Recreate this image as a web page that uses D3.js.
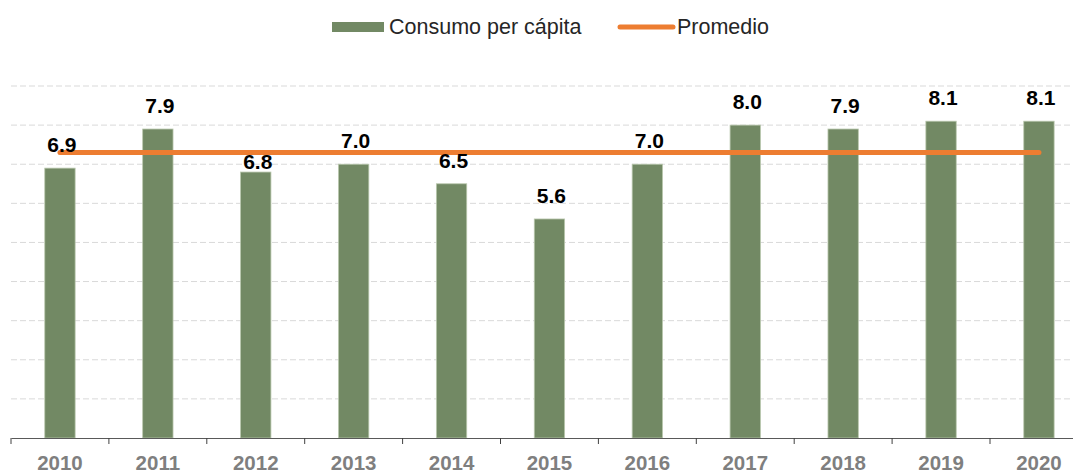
<!DOCTYPE html>
<html>
<head>
<meta charset="utf-8">
<script src="https://cdn.jsdelivr.net/npm/d3@7"></script>
<style>
  body { margin: 0; overflow: hidden; background: #fff; }
  svg { display: block; font-family: "Liberation Sans", Arial, sans-serif; }
</style>
</head>
<body>
<svg id="chart"></svg>
<script>
const years = ["2010", "2011", "2012", "2013", "2014", "2015", "2016", "2017", "2018", "2019", "2020"];
const consumo = [6.9, 7.9, 6.8, 7.0, 6.5, 5.6, 7.0, 8.0, 7.9, 8.1, 8.1];
const promedio = [7.3, 7.3, 7.3, 7.3, 7.3, 7.3, 7.3, 7.3, 7.3, 7.3, 7.3];
const gridTicks = [1, 2, 3, 4, 5, 6, 7, 8, 9];

const width = 1073;
const height = 473;
const margin = { top: 86, bottom: 35, left: 11 };
const step = 97.9;

const svg = d3.select("#chart").attr("width", width).attr("height", height);

const x = d3
  .scaleBand()
  .domain(years)
  .range([margin.left, margin.left + step * years.length]);
const y = d3
  .scaleLinear()
  .domain([0, 9])
  .range([height - margin.bottom, margin.top]);

const data = years.map((d, i) => ({ year: d, value: consumo[i], avg: promedio[i] }));

// grid
svg
  .append("g")
  .selectAll("line")
  .data(gridTicks)
  .join("line")
  .attr("x1", margin.left)
  .attr("x2", width)
  .attr("y1", (d) => y(d))
  .attr("y2", (d) => y(d))
  .attr("stroke", "#d9d9d9")
  .attr("stroke-width", 1)
  .attr("stroke-dasharray", "6,3");

// bars
const barW = x.bandwidth() * 0.31;
svg
  .append("g")
  .selectAll("rect")
  .data(data)
  .join("rect")
  .attr("x", (d) => x(d.year) + (x.bandwidth() - barW) / 2)
  .attr("y", (d) => y(d.value))
  .attr("width", barW)
  .attr("height", (d) => y(0) - y(d.value))
  .attr("fill", "#728964")
  .attr("stroke", "#b9c7ad")
  .attr("stroke-width", 0.8);

// x axis
const xAxis = svg
  .append("g")
  .attr("transform", `translate(0,${y(0)})`)
  .call(d3.axisBottom(x).tickSize(0).tickPadding(17).tickSizeOuter(0));
xAxis.select(".domain").attr("stroke", "#595959").attr("stroke-width", 1.2);
xAxis
  .selectAll(".tick text")
  .attr("font-size", 20.5)
  .attr("font-weight", "bold")
  .attr("fill", "#7f7f7f")
  .attr("font-family", "Liberation Sans, Arial, sans-serif");
xAxis
  .append("g")
  .selectAll("line")
  .data(years)
  .join("line")
  .attr("x1", (d) => x(d))
  .attr("x2", (d) => x(d))
  .attr("y1", 0)
  .attr("y2", 6)
  .attr("stroke", "#404040");

// average line
const line = d3
  .line()
  .x((d) => x(d.year) + x.bandwidth() / 2)
  .y((d) => y(d.avg));
svg
  .append("path")
  .datum(data)
  .attr("d", line)
  .attr("fill", "none")
  .attr("stroke", "#ed7d31")
  .attr("stroke-width", 5)
  .attr("stroke-linecap", "round");

// value labels (dropped onto the bar when the average line would cut them)
const labelY = (d) => {
  const base = y(d.value) - 16;
  const ly = y(d.avg);
  return base - 8 < ly && ly < base ? y(d.value) - 3 : base;
};
svg
  .append("g")
  .selectAll("text")
  .data(data)
  .join("text")
  .attr("x", (d) => x(d.year) + x.bandwidth() / 2 + 2)
  .attr("y", labelY)
  .attr("text-anchor", "middle")
  .attr("font-size", 21)
  .attr("font-weight", "bold")
  .attr("fill", "#000")
  .text((d) => d3.format(".1f")(d.value));

// legend
const legend = svg.append("g");
legend
  .append("rect")
  .attr("x", 332)
  .attr("y", 22)
  .attr("width", 52)
  .attr("height", 10)
  .attr("fill", "#728964");
legend
  .append("text")
  .attr("x", 389)
  .attr("y", 34)
  .attr("font-size", 21.5)
  .attr("fill", "#262626")
  .text("Consumo per cápita");
legend
  .append("line")
  .attr("x1", 620)
  .attr("x2", 673)
  .attr("y1", 27)
  .attr("y2", 27)
  .attr("stroke", "#ed7d31")
  .attr("stroke-width", 5)
  .attr("stroke-linecap", "round");
legend
  .append("text")
  .attr("x", 677)
  .attr("y", 34)
  .attr("font-size", 21.5)
  .attr("fill", "#262626")
  .text("Promedio");
</script>
</body>
</html>
